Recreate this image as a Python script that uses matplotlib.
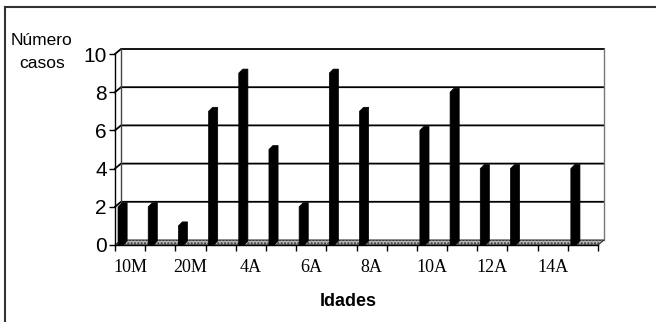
import numpy as np
import matplotlib
matplotlib.use('Agg')
import matplotlib.pyplot as plt
from matplotlib.patches import Polygon
from matplotlib.lines import Line2D

# DATA
categories = ['10M', '15M', '20M', '3A', '4A', '5A', '6A', '7A',
              '8A', '9A', '10A', '11A', '12A', '13A', '14A', '15A']
counts = [2, 2, 1, 7, 9, 5, 2, 9, 7, 0, 6, 8, 4, 4, 0, 4]
y_ticks = [0, 2, 4, 6, 8, 10]

plt.rcParams['font.family'] = ['Liberation Sans', 'DejaVu Sans']

W, H = 656, 322
fig = plt.figure(figsize=(W / 100, H / 100), dpi=100)
ax_l, ax_b, ax_w, ax_h = 115, 245, 483, 191   # pixels
ax = fig.add_axes([ax_l / W, 1 - ax_b / H, ax_w / W, ax_h / H])

n = len(counts)
ymax = y_ticks[-1]
ax.set_xlim(0, n)
ax.set_ylim(0, ymax)

# pixel -> data units (for the fake 3D depth)
px_x = n / ax_w
px_y = ymax / ax_h
dx, dy = 6 * px_x, 5 * px_y      # wall depth
bdx, bdy = 4 * px_x, 4 * px_y    # bar depth
bar_off, bar_w = 0.1, 0.17

# back wall + side wall gridlines
for y in y_ticks[1:]:
    ax.plot([0, dx, n + dx], [y, y + dy, y + dy], color='black', lw=1.3,
            clip_on=False, zorder=1)
ax.plot([dx, dx], [dy, ymax + dy], color='#444444', lw=1, clip_on=False, zorder=1)
ax.plot([n + dx, n + dx], [dy, ymax + dy], color='#777777', lw=1, clip_on=False, zorder=1)

# floor
floor = Polygon([(0, 0), (n, 0), (n + dx, dy), (dx, dy)], closed=True,
                facecolor='#b5b5b5', edgecolor='#333333', hatch='.....',
                lw=0.8, clip_on=False, zorder=2)
ax.add_patch(floor)

# bars (front + side + top, all black)
for i, v in enumerate(counts):
    if v == 0:
        continue
    x0 = i + bar_off
    x1 = x0 + bar_w
    pts = [(x0, 0), (x0, v), (x0 + bdx, v + bdy), (x1 + bdx, v + bdy),
           (x1 + bdx, bdy), (x1, 0)]
    ax.add_patch(Polygon(pts, closed=True, facecolor='black', edgecolor='black',
                         lw=0.5, clip_on=False, zorder=3))

# axes
for s in ['top', 'right']:
    ax.spines[s].set_visible(False)
for s in ['left', 'bottom']:
    ax.spines[s].set_linewidth(1)
    ax.spines[s].set_zorder(4)

ax.set_yticks(y_ticks)
ax.tick_params(axis='y', direction='out', length=4, width=1, pad=2, labelsize=15)

ax.set_xticks(range(n + 1))
ax.set_xticklabels([])
ax.tick_params(axis='x', which='major', direction='out', length=4, width=1)
ax.set_xticks(np.arange(0, n, 2) + 0.5, minor=True)
ax.set_xticklabels(categories[::2], minor=True, family='Liberation Serif', fontsize=13)
ax.tick_params(axis='x', which='minor', length=0, pad=10)

ax.patch.set_visible(False)

fig.text(42 / W, 1 - 52 / H, 'Número\ncasos', ha='center', va='center',
         fontsize=12.5, linespacing=1.6)
fig.text(348 / W, 1 - 302 / H, 'Idades', ha='center', va='center',
         fontsize=13, fontweight='bold')

# outer frame (left and top)
fig.add_artist(Line2D([5 / W, 5 / W], [0, 1 - 7 / H], color='#333333', lw=1.5))
fig.add_artist(Line2D([5 / W, 1], [1 - 7 / H, 1 - 7 / H], color='#333333', lw=1.5))

fig.savefig('out.png', dpi=100)
